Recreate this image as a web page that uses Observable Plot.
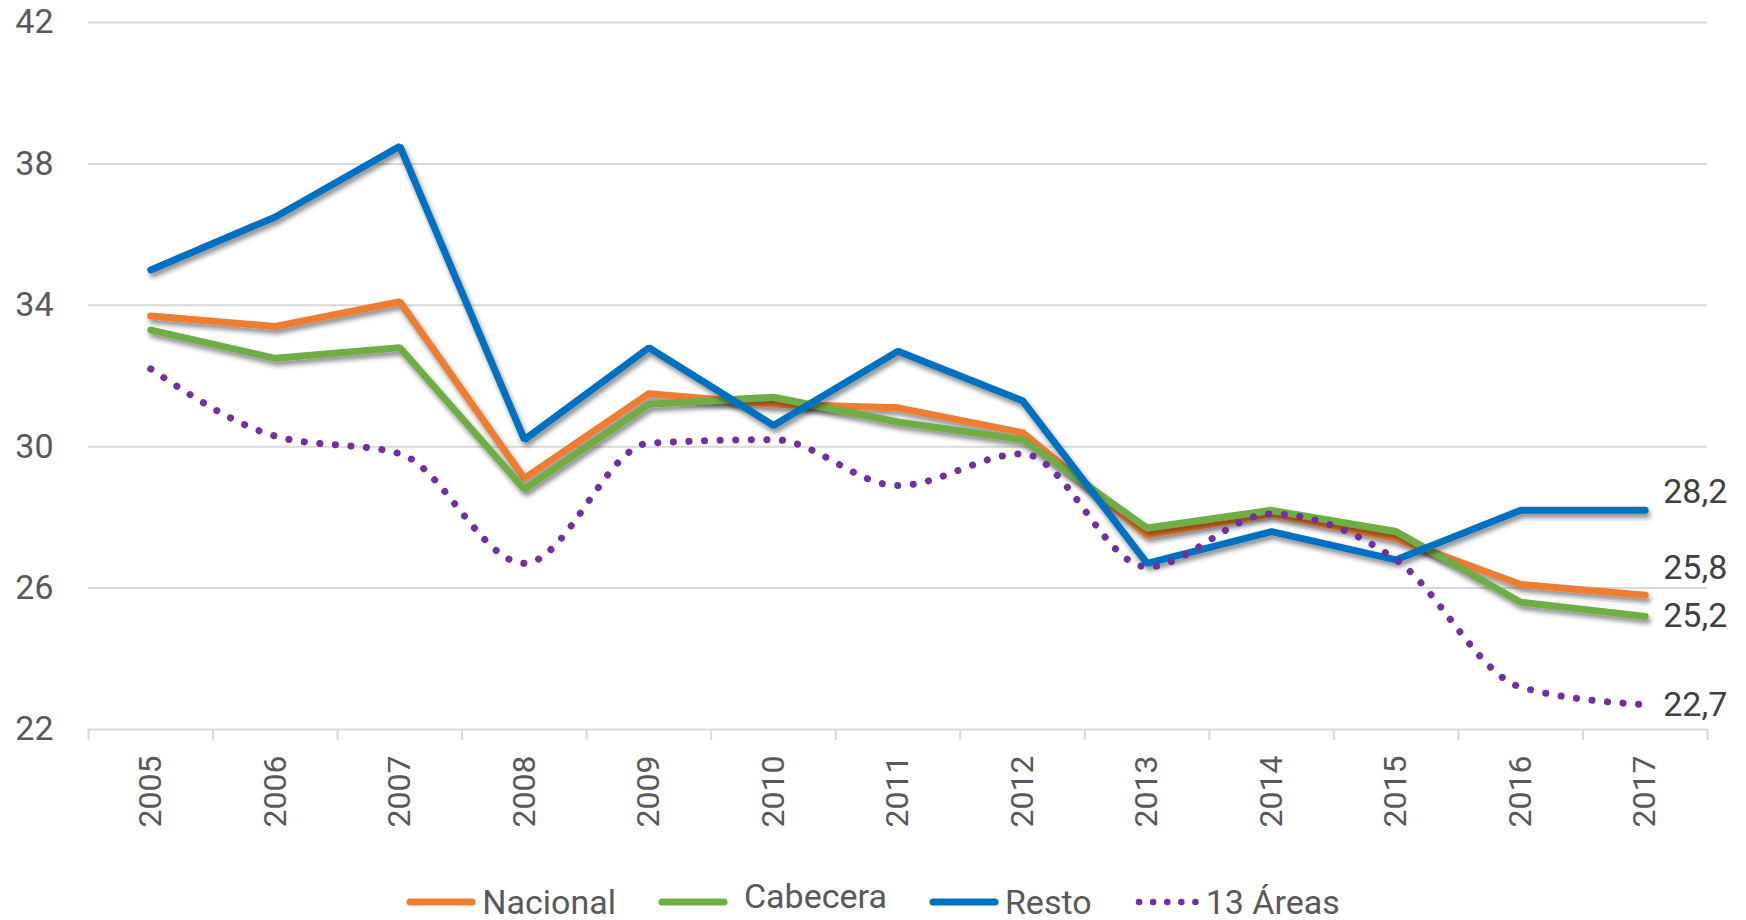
<!DOCTYPE html>
<html>
<head>
<meta charset="utf-8">
<script src="https://cdn.jsdelivr.net/npm/d3@7"></script>
<script src="https://cdn.jsdelivr.net/npm/@observablehq/plot@0.6"></script>
<style>
  html, body { margin: 0; padding: 0; background: #fff; }
  #chart { width: 1746px; height: 860px; }
  #legend {
    width: 1746px; height: 84px; display: flex; justify-content: center; align-items: center;
    font-family: Roboto, "Liberation Sans", sans-serif; font-size: 34px; color: #595959;
  }
  .item { display: flex; align-items: center; margin: 0 21px; }
  .item svg { margin-right: 6px; }
</style>
</head>
<body>
<div id="chart"></div>
<div id="legend"></div>
<script>
const years    = [2005, 2006, 2007, 2008, 2009, 2010, 2011, 2012, 2013, 2014, 2015, 2016, 2017];
const nacional = [33.7, 33.4, 34.1, 29.1, 31.5, 31.2, 31.1, 30.4, 27.5, 28.1, 27.4, 26.1, 25.8];
const cabecera = [33.3, 32.5, 32.8, 28.8, 31.2, 31.4, 30.7, 30.2, 27.7, 28.2, 27.6, 25.6, 25.2];
const resto    = [35.0, 36.5, 38.5, 30.2, 32.8, 30.6, 32.7, 31.3, 26.7, 27.6, 26.8, 28.2, 28.2];
const areas13  = [32.2, 30.3, 29.8, 26.7, 30.1, 30.2, 28.9, 29.8, 26.6, 28.1, 26.8, 23.2, 22.7];
const seriesNames = ["Nacional", "Cabecera", "Resto", "13 Áreas"];
const yTicks = [22, 26, 30, 34, 38, 42];

const seriesValues = [nacional, cabecera, resto, areas13];
const colors = {"Nacional": "#ED7D31", "Cabecera": "#70AD47", "Resto": "#0070C0", "13 Áreas": "#7030A0"};
const labelDy = {"Nacional": -27, "Cabecera": 0, "Resto": -18, "13 Áreas": 0};

const series = seriesNames.map((name, i) => ({
  name,
  data: years.map((year, j) => ({year, value: seriesValues[i][j], series: name}))
}));

const boundaries = d3.range(years[0] - 0.5, years[years.length - 1] + 1, 1);
const fmt = v => v.toFixed(1).replace(".", ",");

const lineMarks = series.map(s => {
  const dotted = s.name === "13 Áreas";
  return Plot.lineY(s.data, {
    x: "year", y: "value",
    stroke: colors[s.name],
    strokeWidth: 7,
    strokeLinecap: "round",
    strokeLinejoin: dotted ? "round" : "miter",
    strokeDasharray: dotted ? "0.1 15.5" : null,
    curve: dotted ? "monotone-x" : "linear"
  });
});

const labelMarks = series.map(s => {
  const last = s.data[s.data.length - 1];
  return Plot.text([last], {
    x: "year", y: "value", text: d => fmt(d.value),
    dx: 18, dy: labelDy[s.name], textAnchor: "start",
    fill: "#404040", fontSize: 34
  });
});

const chart = Plot.plot({
  width: 1746, height: 860,
  marginTop: 22, marginBottom: 131, marginLeft: 88, marginRight: 39,
  style: {fontFamily: "Roboto, 'Liberation Sans', sans-serif", fontSize: "34px", color: "#595959", background: "#fff"},
  x: {domain: [years[0] - 0.5, years[years.length - 1] + 0.5], label: null},
  y: {domain: [yTicks[0], yTicks[yTicks.length - 1]], label: null},
  marks: [
    Plot.gridY(yTicks, {stroke: "#d9d9d9", strokeOpacity: 1, strokeWidth: 2}),
    Plot.axisY(yTicks, {tickSize: 0, tickPadding: 35, fontSize: 34, fill: "#595959"}),
    Plot.axisX(boundaries, {tickSize: 11, tickFormat: () => "", stroke: "#d9d9d9", strokeWidth: 2}),
    Plot.axisX(years, {tickSize: 0, tickRotate: -90, tickPadding: 26, tickFormat: d => String(d), fontSize: 32, fill: "#595959"}),
    ...lineMarks,
    ...labelMarks
  ]
});
document.getElementById("chart").appendChild(chart);

// drop shadow on solid lines
const svg = chart.tagName === "svg" ? chart : chart.querySelector("svg");
const ns = "http://www.w3.org/2000/svg";
const defs = document.createElementNS(ns, "defs");
defs.innerHTML = '<filter id="sh" x="-10%" y="-10%" width="120%" height="130%"><feDropShadow dx="2" dy="4" stdDeviation="2.5" flood-color="#000" flood-opacity="0.45"/></filter>';
svg.insertBefore(defs, svg.firstChild);
const lineGroups = svg.querySelectorAll('g[aria-label="line"]');
lineGroups.forEach((g, i) => { if (i < 3) g.setAttribute("filter", "url(#sh)"); });

// legend
const legend = document.getElementById("legend");
seriesNames.forEach(name => {
  const item = document.createElement("div");
  item.className = "item";
  const dotted = name === "13 Áreas";
  const sw = dotted
    ? `<svg width="66" height="12"><line x1="5" x2="62" y1="6" y2="6" stroke="${colors[name]}" stroke-width="6.5" stroke-linecap="round" stroke-dasharray="0.1 14"/></svg>`
    : `<svg width="70" height="12"><line x1="4" x2="66" y1="6" y2="6" stroke="${colors[name]}" stroke-width="7" stroke-linecap="round"/></svg>`;
  const label = document.createElement("span");
  label.textContent = name;
  if (name === "Cabecera") { label.style.position = "relative"; label.style.top = "-6px"; label.style.marginLeft = "10px"; }
  item.innerHTML = sw;
  item.appendChild(label);
  legend.appendChild(item);
});
</script>
</body>
</html>
